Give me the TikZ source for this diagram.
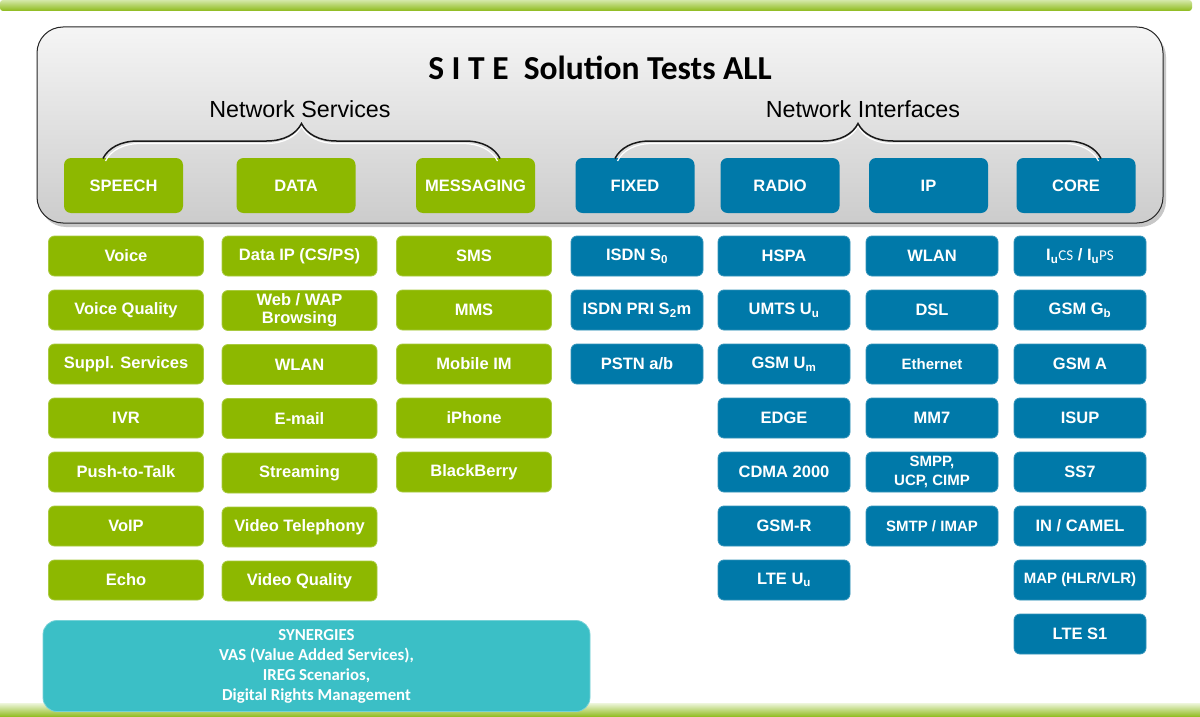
\documentclass[tikz,border=0pt]{standalone}
\usepackage{fontspec}
\setmainfont{Liberation Sans}
\newfontfamily\calfont{Carlito}
\usetikzlibrary{decorations.pathreplacing}
\definecolor{sgreen}{HTML}{8DB800}
\definecolor{sblue}{HTML}{0079A9}
\definecolor{steal}{HTML}{3BBFC6}
\definecolor{barg}{HTML}{8DBA1A}
\definecolor{barl}{HTML}{D4E8A8}
\begin{document}
\begin{tikzpicture}[x=1pt,y=-1pt,
 hdr/.style={rounded corners=7pt, minimum width=119pt, minimum height=55pt, text=white, font=\bfseries\fontsize{16.5}{18}\selectfont, inner sep=0pt},
 gh/.style={hdr, fill=sgreen},
 bh/.style={hdr, fill=sblue},
 cell/.style={rounded corners=6pt, minimum height=40pt, text=white, font=\bfseries\fontsize{16.5}{18}\selectfont, align=center, inner sep=0pt, line width=0.8pt},
 gc/.style={cell, fill=sgreen, draw=sgreen!75!white, minimum width=155pt},
 bc/.style={cell, fill=sblue, draw=sblue!80!white, minimum width=132pt},
 smalltxt/.style={font=\bfseries\fontsize{15}{19}\selectfont},
 bracepath/.style={draw=black!90, line width=1.5pt, decorate, decoration={brace, amplitude=35pt}},
 bracehl/.style={draw=white, line width=1.2pt, decorate, decoration={brace, amplitude=35pt}}
]
\useasboundingbox (0,0) rectangle (1200,717);
\fill[white] (0,0) rectangle (1200,717);
% bars
\shade[top color=barl, bottom color=barg, rounded corners=3pt] (0,0) rectangle (1192,11);
\shade[top color=barl!40, bottom color=barg] (0,703) rectangle (1200,717);
% main box with simple shadow
\fill[black!22, rounded corners=26pt] (40,31) rectangle (1166,227);
\shade[top color=gray!8, bottom color=gray!40, rounded corners=26pt] (37,27) rectangle (1163,223);
\draw[black!85, line width=1pt, rounded corners=26pt] (37,27) rectangle (1163,223);
% labels
\node (title) at (600,68) {\calfont\bfseries\fontsize{33.5}{36}\selectfont S I T E\ \ Solution Tests ALL};
\node (ns) at (300,109) {\fontsize{23.3}{26}\selectfont Network Services};
\node (ni) at (863,109) {\fontsize{23.3}{26}\selectfont Network Interfaces};
% headers
\node[gh] (speech) at (123.5,185.5) {SPEECH};
\node[gh] (data) at (296,185.5) {DATA};
\node[gh] (msg) at (475.5,185.5) {MESSAGING};
\node[bh] (fixed) at (635,185.5) {FIXED};
\node[bh] (radio) at (780,185.5) {RADIO};
\node[bh] (ip) at (928.5,185.5) {IP};
\node[bh] (core) at (1076,185.5) {CORE};
% braces (drawn last in the header area)
\coordinate (h1a) at (105.5,161); \coordinate (h1b) at (497.5,161);
\coordinate (h2a) at (617.5,161); \coordinate (h2b) at (1098.5,161);
\coordinate (b1a) at (103,158.5); \coordinate (b1b) at (500,158.5);
\coordinate (b2a) at (615,158.5); \coordinate (b2b) at (1101,158.5);
\draw[bracehl] (h1a) -- (h1b);
\draw[bracehl] (h2a) -- (h2b);
\draw[bracepath] (b1a) -- (b1b);
\draw[bracepath] (b2a) -- (b2b);
% speech column
\node[gc] (s1) at (126,256) {Voice};
\node[gc] (s2) at (126,310) {Voice Quality};
\node[gc] (s3) at (126,364) {Suppl. Services};
\node[gc] (s4) at (126,418) {IVR};
\node[gc] (s5) at (126,472) {Push-to-Talk};
\node[gc] (s6) at (126,526) {VoIP};
\node[gc] (s7) at (126,580) {Echo};
% data column
\node[gc] (d1) at (299.5,256) {Data IP (CS/PS)};
\node[gc] (d2) at (299.5,310.5) {Web / WAP\\Browsing};
\node[gc] (d3) at (299.5,364.5) {WLAN};
\node[gc] (d4) at (299.5,418.5) {E-mail};
\node[gc] (d5) at (299.5,473) {Streaming};
\node[gc] (d6) at (299.5,527) {Video Telephony};
\node[gc] (d7) at (299.5,581) {Video Quality};
% messaging column
\node[gc] (m1) at (474,256) {SMS};
\node[gc] (m2) at (474,310) {MMS};
\node[gc] (m3) at (474,364) {Mobile IM};
\node[gc] (m4) at (474,418) {iPhone};
\node[gc] (m5) at (474,472) {BlackBerry};
% fixed column
\node[bc] (f1) at (637,256) {ISDN S\textsubscript{0}};
\node[bc] (f2) at (637,310) {ISDN PRI S\textsubscript{2}m};
\node[bc] (f3) at (637,364) {PSTN a/b};
% radio column
\node[bc] (r1) at (784,256) {HSPA};
\node[bc] (r2) at (784,310) {UMTS U\textsubscript{u}};
\node[bc] (r3) at (784,364) {GSM U\textsubscript{m}};
\node[bc] (r4) at (784,418) {EDGE};
\node[bc] (r5) at (784,472) {CDMA 2000};
\node[bc] (r6) at (784,526) {GSM-R};
\node[bc] (r7) at (784,580) {LTE U\textsubscript{u}};
% ip column
\node[bc] (i1) at (932,256) {WLAN};
\node[bc] (i2) at (932,310) {DSL};
\node[bc, smalltxt] (i3) at (932,364) {Ethernet};
\node[bc] (i4) at (932,418) {MM7};
\node[bc, smalltxt] (i5) at (932,472) {SMPP,\\UCP, CIMP};
\node[bc, smalltxt] (i6) at (932,526) {SMTP / IMAP};
% core column
\node[bc] (c1) at (1080,256) {I\textsubscript{u}{\calfont\mdseries\fontsize{15}{16}\selectfont CS} / I\textsubscript{u}{\calfont\mdseries\fontsize{15}{16}\selectfont PS}};
\node[bc] (c2) at (1080,310) {GSM G\textsubscript{b}};
\node[bc] (c3) at (1080,364) {GSM A};
\node[bc] (c4) at (1080,418) {ISUP};
\node[bc] (c5) at (1080,472) {SS7};
\node[bc] (c6) at (1080,526) {IN / CAMEL};
\node[bc, smalltxt] (c7) at (1080,580) {MAP (HLR/VLR)};
\node[bc] (c8) at (1080,634) {LTE S1};
% synergies
\node[rounded corners=14pt, fill=steal, draw=steal!70!white, line width=0.8pt, minimum width=547pt, minimum height=91pt, inner sep=0pt,
  text=white, align=center, font=\calfont\bfseries\fontsize{16.8}{20}\selectfont] (syn) at (316.5,666)
  {SYNERGIES\\VAS (Value Added Services),\\IREG Scenarios,\\Digital Rights Management};
\end{tikzpicture}
\end{document}
